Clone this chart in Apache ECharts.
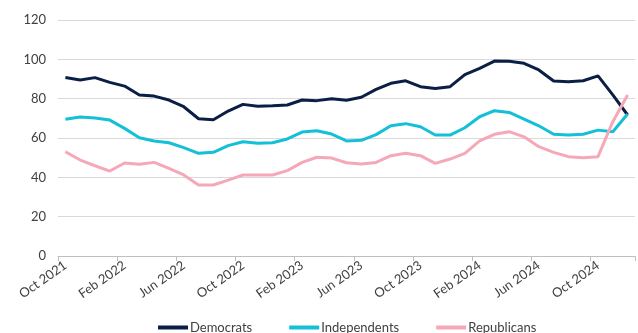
<!DOCTYPE html>
<html><head><meta charset="utf-8">
<script src="https://cdn.jsdelivr.net/npm/echarts@6/dist/echarts.min.js"></script>
<style>html,body{margin:0;padding:0;background:#fff}#c{width:638px;height:333px}</style>
</head><body><div id="c"></div>
<script>
const months = ['Jan','Feb','Mar','Apr','May','Jun','Jul','Aug','Sep','Oct','Nov','Dec'];
const categories = [];
for (let y = 2021, m = 9; categories.length < 39; m++) { if (m === 12) { m = 0; y++; } categories.push(months[m] + ' ' + y); }
const democrats = [90.8,89.5,90.7,88.3,86.4,81.9,81.3,79.3,75.9,69.8,69.3,73.7,77.1,76.1,76.4,76.8,79.3,79.0,80.0,79.2,80.7,84.7,87.8,89.1,86.1,85.2,86.1,92.2,95.4,99.1,99.0,98.0,94.6,89.0,88.6,89.1,91.6,81.9,71.7];
const independents = [69.5,70.7,70.2,69.1,64.9,60.1,58.5,57.6,55.1,52.2,52.7,56.1,58.1,57.3,57.6,59.5,63.0,63.7,62.0,58.5,58.8,61.7,66.2,67.3,65.7,61.5,61.5,65.2,70.8,73.9,73.0,69.6,66.2,61.9,61.5,61.9,64.0,63.2,72.2];
const republicans = [53.0,48.8,45.9,43.2,47.3,46.6,47.6,44.6,41.2,36.1,36.1,38.6,41.2,41.2,41.2,43.4,47.6,50.2,49.8,47.4,46.8,47.6,51.0,52.2,51.0,47.1,49.3,52.2,58.5,61.9,63.2,60.6,55.6,52.7,50.5,50.0,50.5,68.3,81.9];
const seriesNames = ['Democrats','Independents','Republicans'];
const colors = ['#0b1f45','#14bfd8','#f5a8b8'];
const font = 'Lato';
const chart = echarts.init(document.getElementById('c'));
const mk = (name, data, color) => ({name, type:'line', data, symbol:'none', smooth:false,
  lineStyle:{width:3, color}, itemStyle:{color}});
chart.setOption({
  animation:false,
  textStyle:{fontFamily:font},
  grid:{left:58, right:3, top:20, bottom:77, containLabel:false},
  legend:{top:316, left:153, itemWidth:30, itemHeight:4, itemGap:37, icon:'rect',
    textStyle:{fontFamily:font, fontSize:13, color:'#404040', padding:[0,0,0,-3]},
    data:seriesNames},
  xAxis:{type:'category', data:categories, boundaryGap:true,
    axisLine:{lineStyle:{color:'#bfbfbf'}},
    axisTick:{show:true, interval:3, alignWithLabel:false, length:5, lineStyle:{color:'#bfbfbf'}},
    axisLabel:{interval:3, rotate:35, fontSize:13, color:'#404040', fontFamily:font, margin:8}},
  yAxis:{type:'value', min:0, max:120, interval:20,
    axisLine:{show:false}, axisTick:{show:false},
    splitLine:{lineStyle:{color:'#d9d9d9', width:1}},
    axisLabel:{fontSize:13, color:'#404040', fontFamily:font, margin:12}},
  series:[mk(seriesNames[0],democrats,colors[0]), mk(seriesNames[1],independents,colors[1]), mk(seriesNames[2],republicans,colors[2])]
});
</script></body></html>
